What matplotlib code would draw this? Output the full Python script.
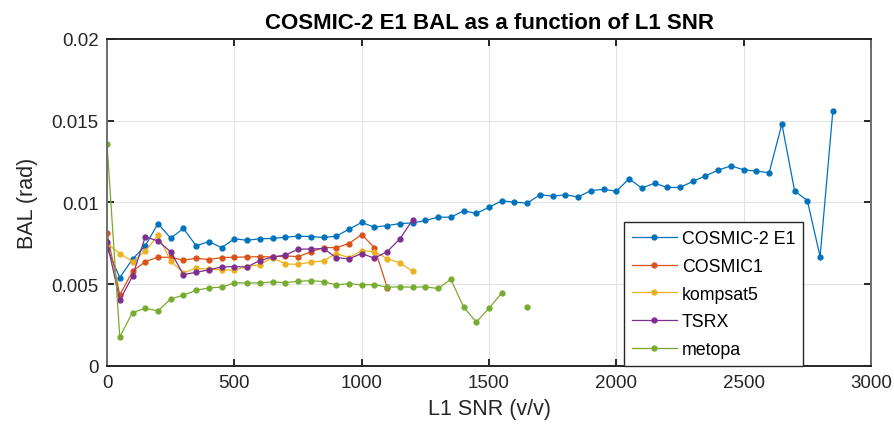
import numpy as np
import matplotlib
matplotlib.use('Agg')
import matplotlib.pyplot as plt

plt.rcParams['font.family'] = ['Liberation Sans', 'DejaVu Sans']

# SNR bins, 50 v/v apart
snr_cosmic2 = np.arange(0, 2851, 50)
bal_cosmic2 = [0.0072, 0.00541, 0.00653, 0.00735, 0.00871, 0.00782, 0.00841, 0.00735,
               0.00761, 0.00724, 0.00778, 0.00769, 0.00778, 0.0078, 0.00788, 0.00794,
               0.00792, 0.00786, 0.00794, 0.00837, 0.00878, 0.00849, 0.00859, 0.00871,
               0.00875, 0.0089, 0.0091, 0.0091, 0.00949, 0.00933, 0.00971, 0.0101,
               0.01002, 0.00996, 0.01047, 0.01039, 0.01047, 0.01034, 0.01073, 0.0108,
               0.01069, 0.01145, 0.01088, 0.01118, 0.01092, 0.01092, 0.01129, 0.01163,
               0.01198, 0.01224, 0.012, 0.01192, 0.01182, 0.0148, 0.01071, 0.01012,
               0.00669, 0.01557]

snr_cosmic1 = np.arange(0, 1101, 50)
bal_cosmic1 = [0.00812, 0.00435, 0.00578, 0.00639, 0.00665, 0.00665, 0.00647, 0.00659,
               0.00651, 0.00663, 0.00665, 0.00667, 0.00669, 0.00667, 0.00673, 0.00669,
               0.00698, 0.00724, 0.00724, 0.00749, 0.00804, 0.00724, 0.0048]

snr_kompsat5 = np.arange(0, 1201, 50)
bal_kompsat5 = [0.00749, 0.00688, 0.00639, 0.00702, 0.008, 0.00641, 0.00571, 0.00598,
                0.00592, 0.00588, 0.00586, 0.00608, 0.0062, 0.00663, 0.00624, 0.00622,
                0.00635, 0.00643, 0.00688, 0.00663, 0.00704, 0.007, 0.00657, 0.0063,
                0.0058]

snr_tsrx = np.arange(0, 1201, 50)
bal_tsrx = [0.00759, 0.00402, 0.00549, 0.0079, 0.00765, 0.00698, 0.00559, 0.00573,
            0.00588, 0.00606, 0.00608, 0.00606, 0.00645, 0.00667, 0.00678, 0.00714,
            0.00716, 0.00718, 0.00663, 0.00655, 0.00688, 0.00659, 0.007, 0.00777,
            0.00894]

snr_metopa = np.arange(0, 1651, 50)
bal_metopa = [0.01355, 0.00178, 0.00327, 0.00353, 0.00337, 0.0041, 0.00433, 0.00463,
              0.00478, 0.00482, 0.00508, 0.00508, 0.00508, 0.00514, 0.0051, 0.00518,
              0.00522, 0.00516, 0.00496, 0.00504, 0.00496, 0.00498, 0.00482, 0.00484,
              0.00482, 0.00484, 0.00474, 0.0053, 0.00361, 0.00269, 0.00353, 0.00447,
              np.nan, 0.00361]

series = [
    ('COSMIC-2 E1', snr_cosmic2, bal_cosmic2, '#0072BD'),
    ('COSMIC1', snr_cosmic1, bal_cosmic1, '#D95319'),
    ('kompsat5', snr_kompsat5, bal_kompsat5, '#EDB120'),
    ('TSRX', snr_tsrx, bal_tsrx, '#7E2F8E'),
    ('metopa', snr_metopa, bal_metopa, '#77AC30'),
]

fig = plt.figure(figsize=(8.95, 4.31), dpi=100)
ax = fig.add_axes([0.1196, 0.1485, 0.8536, 0.7587])

for name, x, y, c in series:
    ax.plot(x, y, '.-', color=c, lw=0.9, ms=7, label=name)

ax.set_xlim(0, 3000)
ax.set_ylim(0, 0.02)
ax.set_xticks(np.arange(0, 3001, 500))
ax.set_yticks([0, 0.005, 0.01, 0.015, 0.02])
ax.set_yticklabels(['0', '0.005', '0.01', '0.015', '0.02'])
ax.grid(True, color='#e3e3e3', lw=0.8)
ax.set_axisbelow(True)
for side, s in ax.spines.items():
    s.set_color('#262626' if side in ('top', 'bottom') else '#6e6e6e')
    s.set_linewidth(1.4)
ax.tick_params(direction='in', length=5, width=1.4, top=True, right=True,
               labelsize=13.5, colors='#262626', pad=6)

ax.set_title('COSMIC-2 E1 BAL as a function of L1 SNR', fontsize=16,
             fontweight='bold', pad=8)
ax.set_xlabel('L1 SNR (v/v)', fontsize=15.5, color='#262626', labelpad=5)
ax.set_ylabel('BAL (rad)', fontsize=15.5, color='#262626', labelpad=10)

leg = ax.legend(loc='lower left', bbox_to_anchor=(0.677, 0.0), borderaxespad=0,
                fancybox=False, edgecolor='#262626', fontsize=12.8, handlelength=2.5,
                handletextpad=0.3, borderpad=0.45, labelspacing=0.6, framealpha=1)
leg.get_frame().set_linewidth(1.0)

fig.savefig('out.png', dpi=100)
